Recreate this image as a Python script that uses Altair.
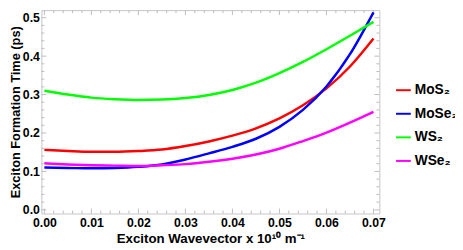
import altair as alt
import pandas as pd

# ---- data ----
wavevector = [0.000, 0.005, 0.010, 0.015, 0.020, 0.025, 0.030, 0.035,
              0.040, 0.045, 0.050, 0.055, 0.060, 0.065, 0.070]
mos2 = [0.156, 0.153, 0.151, 0.151, 0.153, 0.157, 0.166, 0.178,
        0.193, 0.212, 0.238, 0.272, 0.316, 0.373, 0.446]
mose2 = [0.110, 0.109, 0.108, 0.109, 0.112, 0.118, 0.131, 0.147,
         0.164, 0.185, 0.216, 0.260, 0.321, 0.405, 0.514]
ws2 = [0.310, 0.300, 0.292, 0.288, 0.286, 0.287, 0.291, 0.299,
       0.312, 0.331, 0.356, 0.385, 0.418, 0.453, 0.489]
wse2 = [0.121, 0.118, 0.116, 0.115, 0.114, 0.116, 0.119, 0.125,
        0.133, 0.144, 0.159, 0.179, 0.201, 0.227, 0.255]

materials = ["MoS₂", "MoSe₂", "WS₂", "WSe₂"]
colors = ["#ff0000", "#0000ff", "#00ff00", "#ff00ff"]

x_ticks = [0.00, 0.01, 0.02, 0.03, 0.04, 0.05, 0.06, 0.07]
y_ticks = [0.0, 0.1, 0.2, 0.3, 0.4, 0.5]
x_minor = [round(i * 0.002, 4) for i in range(0, 36) if i % 5 != 0]
y_minor = [round(i * 0.02, 3) for i in range(0, 26) if i % 5 != 0]

rows = []
for name, vals in zip(materials, [mos2, mose2, ws2, wse2]):
    for k, v in zip(wavevector, vals):
        rows.append({"k": k, "t": v, "material": name})
df = pd.DataFrame(rows)

W, H = 344, 207
FONT = "Liberation Sans"
xscale = alt.Scale(domain=[-0.00063, 0.07125], nice=False, zero=False)
yscale = alt.Scale(domain=[-0.0095, 0.5197], nice=False, zero=False)

x_axis = alt.Axis(values=x_ticks, format=".2f",
                  title="Exciton Wavevector x 10¹⁰ m⁻¹",
                  labelPadding=3, titlePadding=3, titleFontSize=13.5)
y_axis = alt.Axis(values=y_ticks, format=".1f",
                  title="Exciton Formation Time (ps)",
                  labelPadding=2, titlePadding=0, titleFontSize=13)

lines = alt.Chart(df).mark_line(strokeWidth=2.5, interpolate="monotone").encode(
    x=alt.X("k:Q", scale=xscale, axis=x_axis),
    y=alt.Y("t:Q", scale=yscale, axis=y_axis),
    color=alt.Color("material:N",
                    scale=alt.Scale(domain=materials, range=colors),
                    legend=alt.Legend(orient="none", legendX=360, legendY=73,
                                      title=None, symbolType="stroke",
                                      symbolStrokeWidth=2, symbolSize=225,
                                      labelFont=FONT, labelFontWeight="bold",
                                      labelFontSize=14, labelColor="black",
                                      rowPadding=8, labelOffset=3, padding=0)),
)


def xticks(vals, length, top):
    d = pd.DataFrame({"v": vals})
    if top:
        y0, y1 = alt.value(0), alt.value(length)
    else:
        y0, y1 = alt.value(H), alt.value(H - length)
    return alt.Chart(d).mark_rule(color="#bdbdbd", strokeWidth=1).encode(
        x=alt.X("v:Q", scale=xscale, axis=x_axis), y=y0, y2=y1)


def yticks(vals, length, right):
    d = pd.DataFrame({"v": vals})
    if right:
        x0, x1 = alt.value(W), alt.value(W - length)
    else:
        x0, x1 = alt.value(0), alt.value(length)
    return alt.Chart(d).mark_rule(color="#bdbdbd", strokeWidth=1).encode(
        y=alt.Y("v:Q", scale=yscale, axis=y_axis), x=x0, x2=x1)


layers = [
    xticks(x_ticks, 5, False), xticks(x_minor, 3, False),
    xticks(x_ticks, 5, True), xticks(x_minor, 3, True),
    yticks(y_ticks, 5, False), yticks(y_minor, 3, False),
    yticks(y_ticks, 5, True), yticks(y_minor, 3, True),
    lines,
]

chart = alt.layer(*layers).properties(
    width=W, height=H,
    autosize=alt.AutoSizeParams(type="none"),
    padding={"left": 34, "top": 0, "right": 77, "bottom": 35},
).configure_view(
    stroke="#c4c4c4", strokeWidth=1
).configure_axis(
    domain=False, ticks=False, grid=False,
    labelFont=FONT, labelFontWeight="bold", labelFontSize=12.5, labelColor="black",
    titleFont=FONT, titleFontWeight="bold", titleColor="black",
)

chart.save("out.html", embed_options={"renderer": "svg", "actions": False})
